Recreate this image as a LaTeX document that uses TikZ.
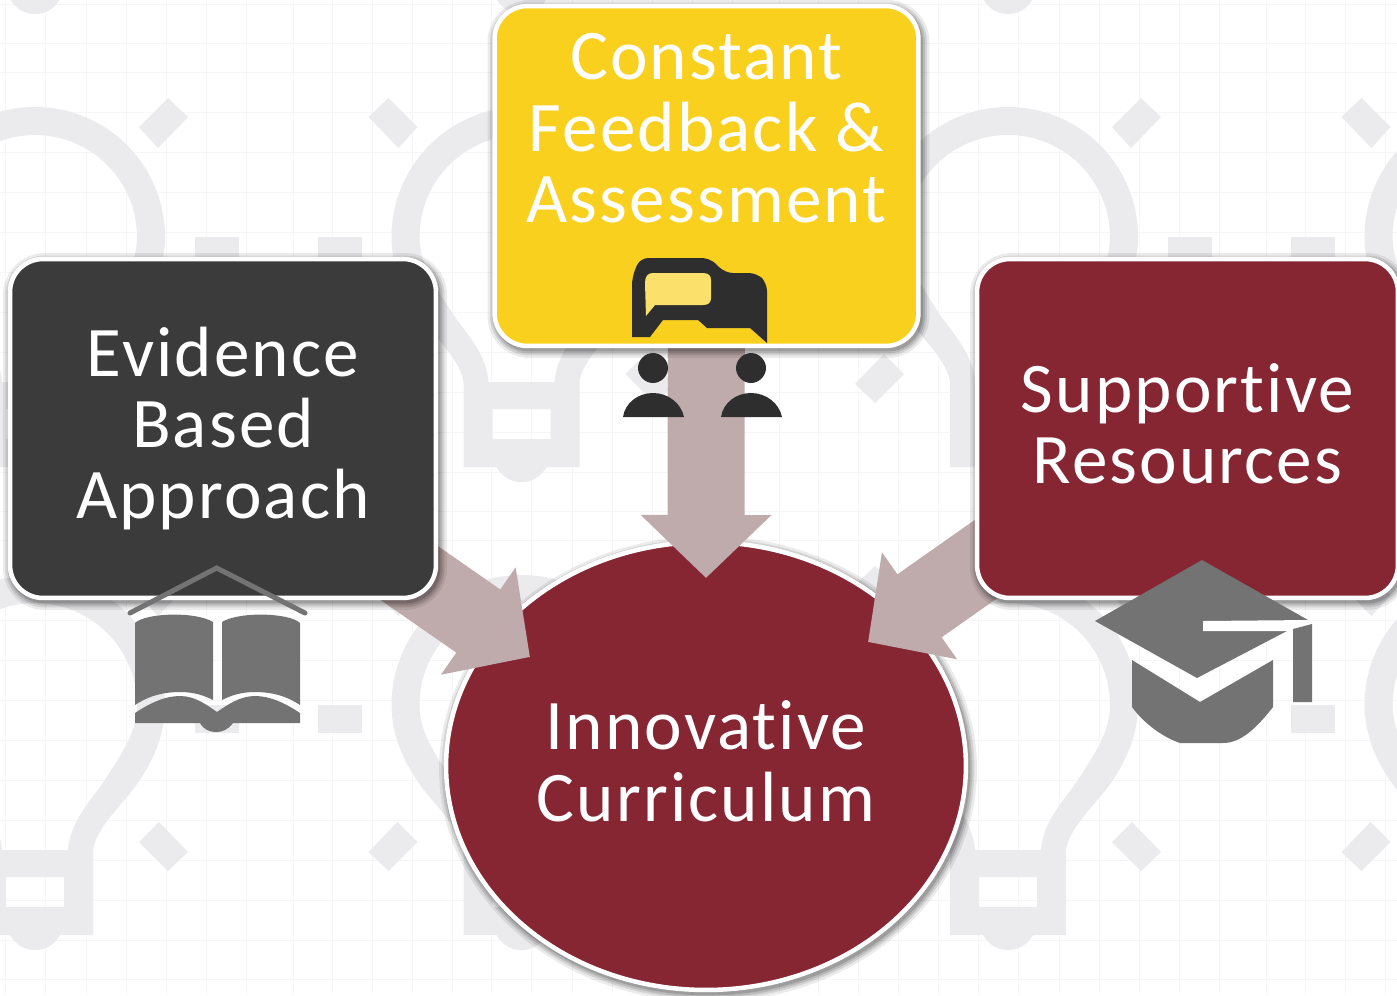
\documentclass[tikz,border=0pt]{standalone}
\usepackage{fontspec}
\setmainfont[LetterSpace=3,Ligatures=NoCommon]{Carlito}
\usetikzlibrary{arrows.meta,calc,shapes.geometric}
\definecolor{maroon}{HTML}{862633}
\definecolor{inkdark}{HTML}{3B3B3B}
\definecolor{sun}{HTML}{F9D01E}
\definecolor{paleSun}{HTML}{FBE06C}
\definecolor{flow}{HTML}{C0ABAC}
\definecolor{bulbgray}{HTML}{EBEBED}
\definecolor{gridgray}{HTML}{F6F6F6}
\definecolor{icongray}{HTML}{737373}
\definecolor{iconink}{HTML}{2E2E2E}
\pgfdeclarelayer{bg}
\pgfdeclarelayer{mid}
\pgfsetlayers{bg,mid,main}
\tikzset{
  softshade/.style={
    preaction={draw=black,draw opacity=.08,line width=.36cm,transform canvas={xshift=.04cm,yshift=-.06cm}},
    preaction={draw=black,draw opacity=.10,line width=.26cm,transform canvas={xshift=.04cm,yshift=-.06cm}},
    preaction={draw=black,draw opacity=.12,line width=.18cm,transform canvas={xshift=.04cm,yshift=-.06cm}},
    preaction={draw=black,draw opacity=.15,line width=.10cm,transform canvas={xshift=.04cm,yshift=-.06cm}}},
  boxbase/.style={softshade,draw=white,line width=.09cm,rounded corners=.66cm,text=white,align=center,inner sep=0pt,
    font=\fontsize{40.5}{40.5}\selectfont},
  ovalbase/.style={softshade,ellipse,draw=white,line width=.09cm,text=white,align=center,inner sep=0pt,
    font=\fontsize{40.5}{40.5}\selectfont,fill=maroon,minimum width=10.4cm,minimum height=8.96cm},
  flowarrow/.style={draw=flow,line width=1.54cm,-{Triangle[length=1.26cm,width=2.54cm,fill=flow]}},
  bulbfill/.style={fill=bulbgray,even odd rule},
  gridline/.style={draw=gridgray,line width=.02cm},
  roofline/.style={draw=icongray,line width=.1cm,line cap=round,line join=miter},
}
\begin{document}
\begin{tikzpicture}[x=.02cm,y=-.02cm]
\useasboundingbox (0,0) rectangle (1397,995);
\begin{pgfonlayer}{bg}
\fill[white] (0,0) rectangle (1397,995);
% faint grid of the backdrop
\foreach \k in {0,1,2}{
  \foreach \g in {5,45,86,126,166,206,246,293,332,372,412,452}{
    \draw[gridline] ({\g+\k*486.5},0) -- ({\g+\k*486.5},995);
  }
}
\foreach \k in {0,1,2}{
  \foreach \g in {4,43,72,112,152,192,232,272,312,352,392,432}{
    \draw[gridline] (0,{\g+\k*468}) -- (1397,{\g+\k*468});
  }
}
% light bulbs of the backdrop
\foreach \cx in {35,521.5,1008,1494.5}{
  \foreach \ty in {-361,107,575}{
  \begin{scope}[shift={(\cx,\ty)}]
    \path[bulbfill]
      (130,130) .. controls (130,58.2) and (71.8,0) .. (0,0)
      .. controls (-71.8,0) and (-130,58.2) .. (-130,130)
      .. controls (-130,165) and (-113,197) .. (-92,222)
      .. controls (-72,245) and (-60,260) .. (-58,275)
      -- (-58,360) -- (-25,360)
      .. controls (-18,372) and (-8,375) .. (0,375)
      .. controls (8,375) and (18,372) .. (25,360)
      -- (58,360) -- (58,275)
      .. controls (60,260) and (72,245) .. (92,222)
      .. controls (113,197) and (130,165) .. (130,130) -- cycle
      (102,130) .. controls (102,73.7) and (56.3,28) .. (0,28)
      .. controls (-56.3,28) and (-102,73.7) .. (-102,130)
      .. controls (-102,155) and (-90,175) .. (-65,212)
      .. controls (-50,232) and (-35,250) .. (-33,275)
      -- (33,275)
      .. controls (35,250) and (50,232) .. (65,212)
      .. controls (90,175) and (102,155) .. (102,130) -- cycle
      (-29,302) rectangle (29,332);
    \fill[bulbgray] (133,-9) -- (153,10) -- (123,41) -- (104,20) -- cycle;
    \fill[bulbgray] (-133,-9) -- (-153,10) -- (-123,41) -- (-104,20) -- cycle;
    \fill[bulbgray] (124,247) -- (153,277) -- (133,296) -- (104,267) -- cycle;
    \fill[bulbgray] (-124,247) -- (-153,277) -- (-133,296) -- (-104,267) -- cycle;
    \fill[bulbgray] (160,130) rectangle (204,158);
    \fill[bulbgray] (-204,130) rectangle (-160,158);
  \end{scope}
  }
}
\node[ovalbase] (curriculum) at (706,766) {Innovative\\Curriculum\\[-34.8pt]\mbox{}};
\end{pgfonlayer}

\node[boxbase,fill=inkdark,minimum width=8.52cm,minimum height=6.78cm] (evidence) at (223,428.5) {Evidence\\Based\\Approach};
\node[boxbase,fill=sun,minimum width=8.48cm,minimum height=6.80cm] (feedback) at (706.5,176) {Constant\\Feedback \&\\Assessment\\[.5cm]\mbox{}};
\node[boxbase,fill=maroon,minimum width=8.42cm,minimum height=6.78cm] (support) at (1187.5,428.5) {Supportive\\Resources\\[-34.8pt]\mbox{}};

\coordinate (tipL) at (530,657);
\coordinate (tipD) at (706,578);
\coordinate (tipR) at (868,642);
\begin{pgfonlayer}{mid}
\draw[flowarrow] ($(evidence.center)+(0,15)$) -- (tipL);
\draw[flowarrow] (feedback.center) -- (tipD);
\draw[flowarrow] ($(support.center)+(0,-11)$) -- (tipR);
\end{pgfonlayer}

% book icon
\draw[roofline] (130,613) -- (216.7,568) -- (305,613);
\fill[icongray] (135,623) .. controls (145,613) and (195,611) .. (213,622) -- (213,700)
  .. controls (205,696) and (195,692) .. (180,692) .. controls (165,692) and (150,695) .. (135,705) -- cycle;
\fill[icongray] (300,623) .. controls (290,613) and (240,611) .. (222,622) -- (222,700)
  .. controls (230,696) and (240,692) .. (255,692) .. controls (270,692) and (285,695) .. (300,705) -- cycle;
\fill[icongray] (135,713) .. controls (150,703) and (165,696) .. (180,696)
  .. controls (195,696) and (207,705) .. (217,712)
  .. controls (227,705) and (240,696) .. (255,696)
  .. controls (270,696) and (285,703) .. (300,713)
  -- (300,723) -- (233,723) .. controls (228,730) and (222,732) .. (216,732)
  .. controls (210,732) and (204,730) .. (200,723) -- (135,723) -- cycle;

% graduation cap icon
\fill[icongray] (1202,560) -- (1308,620) -- (1197,678) -- (1095,621) -- cycle;
\fill[white] (1203,621) -- (1310,620) -- (1295,631) -- (1203,631) -- cycle;
\fill[icongray] (1293,629) -- (1312,624) -- (1312,702) -- (1293,702) -- cycle;
\fill[icongray] (1132,660) -- (1200,702) -- (1273,660) -- (1273,707)
  .. controls (1255,730) and (1240,743) .. (1223,743) -- (1180,743)
  .. controls (1165,738) and (1145,725) .. (1132,707) -- cycle;

% speech bubbles icon
\fill[iconink] (632,337) [rounded corners=.16cm] -- (632,277) -- (640,258) -- (710,258) -- (725,273) -- (757,273)
  -- (767,283) [sharp corners] -- (767,343) -- (750,328) -- (707,328) -- (698,320) -- (663,320) -- (650,337) -- cycle;
\fill[paleSun] (645,283) .. controls (645,276) and (648,273) .. (653,273) -- (703,273)
  .. controls (709,273) and (711,276) .. (711,280) -- (711,298)
  .. controls (711,303) and (708,305) .. (703,305) -- (655,305) -- (646,316) -- cycle;

% people
\foreach \px in {653,751}{
  \fill[iconink] (\px-15,368) .. controls (\px-15,360) and (\px-8,353) .. (\px,353)
     .. controls (\px+8,353) and (\px+15,360) .. (\px+15,368)
     .. controls (\px+15,376) and (\px+8,383) .. (\px,383)
     .. controls (\px-8,383) and (\px-15,376) .. (\px-15,368) -- cycle;
  \fill[iconink] (\px-30,417) .. controls (\px-28,403) and (\px-15,393) .. (\px,393)
     .. controls (\px+15,393) and (\px+28,403) .. (\px+31,417) -- cycle;
}
\end{tikzpicture}
\end{document}
